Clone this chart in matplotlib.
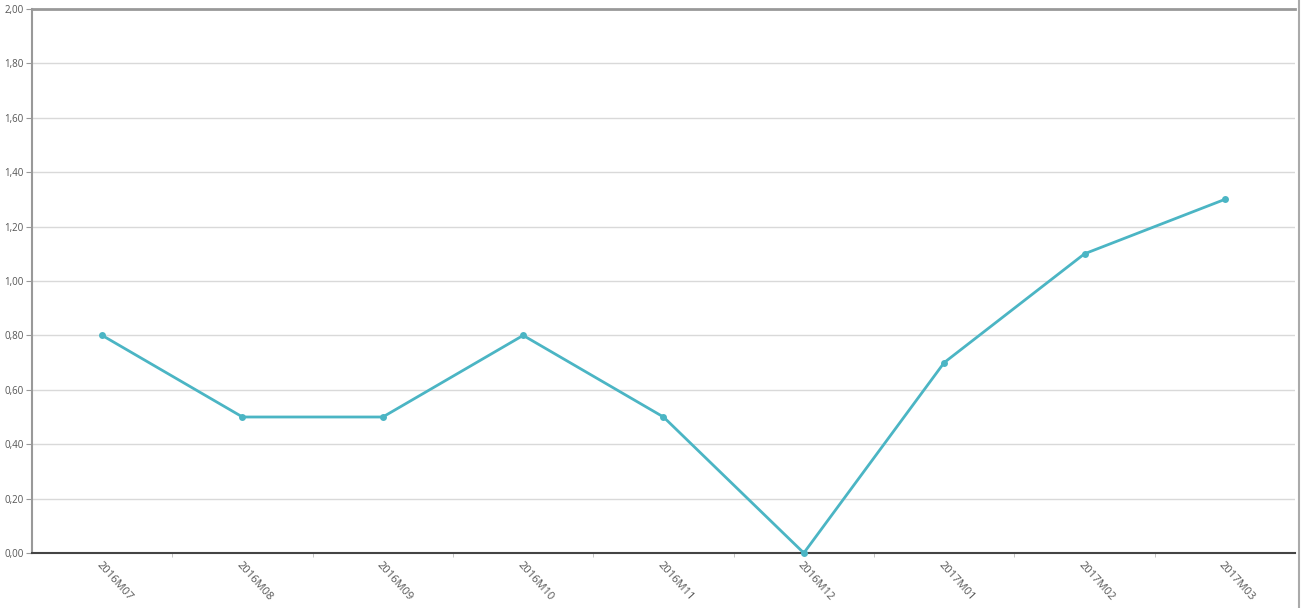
import matplotlib
matplotlib.use("Agg")
import matplotlib.pyplot as plt
from matplotlib.lines import Line2D
from matplotlib.ticker import FuncFormatter, FixedLocator
import numpy as np

plt.rcParams["font.family"] = ["Open Sans", "DejaVu Sans"]

months = ["2016M07", "2016M08", "2016M09", "2016M10", "2016M11",
          "2016M12", "2017M01", "2017M02", "2017M03"]
values = [0.8, 0.5, 0.5, 0.8, 0.5, 0.0, 0.7, 1.1, 1.3]
y_ticks = [0.0, 0.2, 0.4, 0.6, 0.8, 1.0, 1.2, 1.4, 1.6, 1.8, 2.0]

W, H = 1313, 608
fig = plt.figure(figsize=(W / 100, H / 100), dpi=100)
ax = fig.add_axes([32 / W, 1 - 553 / H, (1295 - 32) / W, (553 - 9) / H])

x = np.arange(len(months))
ax.plot(x, values, color="#4bb5c4", lw=2, marker="o", ms=5,
        markeredgewidth=0, clip_on=False, zorder=3)

ax.set_xlim(-0.5, len(months) - 0.5)
ax.set_ylim(0, 2.0)

ax.set_yticks(y_ticks)
ax.yaxis.set_major_formatter(FuncFormatter(lambda v, _: f"{v:.2f}".replace(".", ",")))
ax.grid(axis="y", color="#d9d9d9", lw=1)
ax.set_axisbelow(True)

ax.set_xticks(x)
ax.set_xticklabels(months, rotation=-48, ha="left", va="top",
                   rotation_mode="anchor")
ax.xaxis.set_minor_locator(FixedLocator(x[:-1] + 0.5))
ax.tick_params(axis="x", which="major", length=0, pad=5,
               labelsize=8, labelcolor="#555555")
ax.tick_params(axis="x", which="minor", length=3, color="#bbbbbb", direction="out")
ax.tick_params(axis="y", length=4, color="#999999", labelsize=7,
               labelcolor="#555555", pad=2)

ax.spines["right"].set_visible(False)
ax.spines["top"].set_color("#999999")
ax.spines["top"].set_linewidth(2)
ax.spines["left"].set_color("#999999")
ax.spines["left"].set_linewidth(1.5)
ax.spines["bottom"].set_color("#444444")
ax.spines["bottom"].set_linewidth(1.5)

fig.add_artist(Line2D([1298.5 / W, 1298.5 / W], [0, 1], color="#aaaaaa", lw=1.5))

fig.savefig("out.png", dpi=100)
